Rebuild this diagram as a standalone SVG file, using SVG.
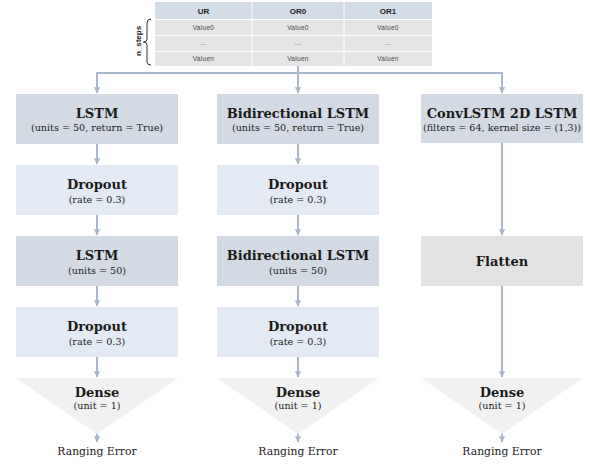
<svg xmlns="http://www.w3.org/2000/svg" width="590" height="466" viewBox="0 0 590 466">
  <defs>
    <marker id="arr" viewBox="0 0 6 6" refX="5.5" refY="3" markerWidth="3.2" markerHeight="3.2" orient="auto" markerUnits="strokeWidth">
      <path d="M0,0 L6,3 L0,6 Z" fill="#a9b7cc"/>
    </marker>
    <style>
      .lstm { fill: #d3dae4; }
      .drop { fill: #e4eaf3; }
      .flat { fill: #e2e2e2; }
      .dense { fill: #f1f1f1; }
      .title { font-family: "DejaVu Serif", "Liberation Serif", serif; font-weight: bold; font-size: 13px; fill: #1a1a1a; text-anchor: middle; }
      .sub { font-family: "DejaVu Serif", "Liberation Serif", serif; font-size: 9.6px; fill: #222; text-anchor: middle; }
      .out { font-family: "DejaVu Serif", "Liberation Serif", serif; font-size: 10.8px; fill: #222; text-anchor: middle; }
      .hdr { fill: #d4dce8; }
      .row { fill: #e4e4e4; }
      .th { font-family: "Liberation Sans", Arial, sans-serif; font-weight: bold; font-size: 8px; fill: #222; text-anchor: middle; }
      .td { font-family: "Liberation Sans", Arial, sans-serif; font-size: 6.5px; fill: #4a4a4a; text-anchor: middle; letter-spacing: 0.3px; }
      .link { fill: none; stroke: #a9b7cc; stroke-width: 2; }
    </style>
  </defs>

  <!-- input table -->
  <g id="input">
    <rect class="hdr" x="155" y="2" width="277" height="17"/>
    <rect class="row" x="155" y="20" width="277" height="15"/>
    <rect class="row" x="155" y="36" width="277" height="15"/>
    <rect class="row" x="155" y="52" width="277" height="14"/>
    <line x1="252" y1="2" x2="252" y2="66" stroke="#fff" stroke-width="1"/>
    <line x1="344" y1="2" x2="344" y2="66" stroke="#fff" stroke-width="1"/>
    <text class="th" x="203.5" y="13.5">UR</text>
    <text class="th" x="298" y="13.5">OR0</text>
    <text class="th" x="388" y="13.5">OR1</text>
    <text class="td" x="203.5" y="30">Value0</text>
    <text class="td" x="298" y="30">Value0</text>
    <text class="td" x="388" y="30">Value0</text>
    <text class="td" x="203.5" y="45">...</text>
    <text class="td" x="298" y="45">...</text>
    <text class="td" x="388" y="45">...</text>
    <text class="td" x="203.5" y="61">Valuen</text>
    <text class="td" x="298" y="61">Valuen</text>
    <text class="td" x="388" y="61">Valuen</text>
    <path d="M151,19 Q147,19 147,23 L147,39 Q147,42 143.5,42 Q147,42 147,45 L147,62 Q147,65 151,65" fill="none" stroke="#333" stroke-width="1"/>
    <text transform="translate(141,41) rotate(-90)" font-family="'Liberation Sans', Arial, sans-serif" font-weight="bold" font-size="8" fill="#222" text-anchor="middle">n_steps</text>
  </g>

  <!-- connectors -->
  <g id="connectors">
    <path class="link" d="M298,66 L298,93" marker-end="url(#arr)"/>
    <path class="link" d="M97,73 L502,73"/>
    <path class="link" d="M97,72 L97,93" marker-end="url(#arr)"/>
    <path class="link" d="M502,72 L502,93" marker-end="url(#arr)"/>

    <path class="link" d="M97,144 L97,164" marker-end="url(#arr)"/>
    <path class="link" d="M97,215 L97,235" marker-end="url(#arr)"/>
    <path class="link" d="M97,286 L97,306" marker-end="url(#arr)"/>
    <path class="link" d="M97,357 L97,377" marker-end="url(#arr)"/>
    <path class="link" d="M97,433 L97,442" marker-end="url(#arr)"/>

    <path class="link" d="M298,144 L298,164" marker-end="url(#arr)"/>
    <path class="link" d="M298,215 L298,235" marker-end="url(#arr)"/>
    <path class="link" d="M298,286 L298,306" marker-end="url(#arr)"/>
    <path class="link" d="M298,357 L298,377" marker-end="url(#arr)"/>
    <path class="link" d="M298,433 L298,442" marker-end="url(#arr)"/>

    <path class="link" d="M502,143 L502,235" marker-end="url(#arr)"/>
    <path class="link" d="M502,286 L502,377" marker-end="url(#arr)"/>
    <path class="link" d="M502,433 L502,442" marker-end="url(#arr)"/>
  </g>

  <!-- branch 1: stacked LSTM -->
  <g id="lstm1">
    <rect class="lstm" x="16" y="94" width="162" height="50"/>
    <text class="title" x="97" y="118">LSTM</text>
    <text class="sub" x="97" y="131">(units = 50, return = True)</text>
  </g>
  <g id="dropout1">
    <rect class="drop" x="16" y="165" width="162" height="50"/>
    <text class="title" x="97" y="189">Dropout</text>
    <text class="sub" x="97" y="203">(rate = 0.3)</text>
  </g>
  <g id="lstm2">
    <rect class="lstm" x="16" y="236" width="162" height="50"/>
    <text class="title" x="97" y="260">LSTM</text>
    <text class="sub" x="97" y="274">(units = 50)</text>
  </g>
  <g id="dropout2">
    <rect class="drop" x="16" y="307" width="162" height="50"/>
    <text class="title" x="97" y="331">Dropout</text>
    <text class="sub" x="97" y="345">(rate = 0.3)</text>
  </g>
  <g id="dense1">
    <polygon class="dense" points="16,378 178,378 97,434"/>
    <text class="title" x="97" y="397">Dense</text>
    <text class="sub" x="97" y="409">(unit = 1)</text>
  </g>
  <g id="out1">
    <text class="out" x="97" y="455">Ranging Error</text>
  </g>

  <!-- branch 2: bidirectional LSTM -->
  <g id="bilstm1">
    <rect class="lstm" x="217" y="94" width="162" height="50"/>
    <text class="title" x="298" y="118">Bidirectional LSTM</text>
    <text class="sub" x="298" y="131">(units = 50, return = True)</text>
  </g>
  <g id="dropout3">
    <rect class="drop" x="217" y="165" width="162" height="50"/>
    <text class="title" x="298" y="189">Dropout</text>
    <text class="sub" x="298" y="203">(rate = 0.3)</text>
  </g>
  <g id="bilstm2">
    <rect class="lstm" x="217" y="236" width="162" height="50"/>
    <text class="title" x="298" y="260">Bidirectional LSTM</text>
    <text class="sub" x="298" y="274">(units = 50)</text>
  </g>
  <g id="dropout4">
    <rect class="drop" x="217" y="307" width="162" height="50"/>
    <text class="title" x="298" y="331">Dropout</text>
    <text class="sub" x="298" y="345">(rate = 0.3)</text>
  </g>
  <g id="dense2">
    <polygon class="dense" points="217,378 379,378 298,434"/>
    <text class="title" x="298" y="397">Dense</text>
    <text class="sub" x="298" y="409">(unit = 1)</text>
  </g>
  <g id="out2">
    <text class="out" x="298" y="455">Ranging Error</text>
  </g>

  <!-- branch 3: ConvLSTM -->
  <g id="convlstm">
    <rect class="lstm" x="421" y="94" width="162" height="49"/>
    <text class="title" x="502" y="118">ConvLSTM 2D LSTM</text>
    <text class="sub" x="502" y="131">(filters = 64, kernel size = (1,3))</text>
  </g>
  <g id="flatten">
    <rect class="flat" x="421" y="236" width="162" height="50"/>
    <text class="title" x="502" y="266">Flatten</text>
  </g>
  <g id="dense3">
    <polygon class="dense" points="421,378 583,378 502,434"/>
    <text class="title" x="502" y="397">Dense</text>
    <text class="sub" x="502" y="409">(unit = 1)</text>
  </g>
  <g id="out3">
    <text class="out" x="502" y="455">Ranging Error</text>
  </g>
</svg>
